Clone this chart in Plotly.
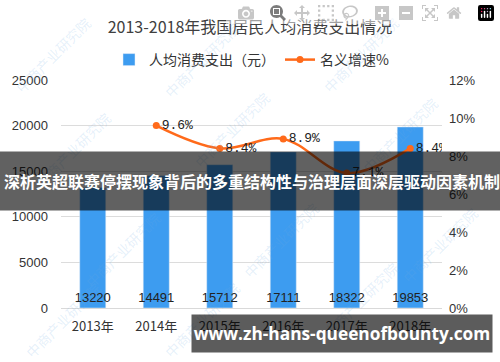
import plotly.graph_objects as go

years = ["2013年", "2014年", "2015年", "2016年", "2017年", "2018年"]
spending = [13220, 14491, 15712, 17111, 18322, 19853]
growth_years = ["2014年", "2015年", "2016年", "2017年", "2018年"]
growth = [9.6, 8.4, 8.9, 7.1, 8.4]

title_text = "2013-2018年我国居民人均消费支出情况"
banner_text = "深析英超联赛停摆现象背后的多重结构性与治理层面深层驱动因素机制"
url_text = "www.zh-hans-queenofbounty.com"
watermark = "中商产业研究院"

CJK = "Noto Sans CJK SC"
PL, PR, PT, PB = 58, 442, 80, 308
PW, PH = PR - PL, PB - PT


def px(x):
    return (x - PL) / PW


def py(y):
    return (PB - y) / PH


fig = go.Figure()
fig.add_trace(go.Bar(
    x=years, y=spending, name="人均消费支出（元）",
    marker=dict(color="#3D9CF0"), width=0.41,
    text=[str(v) for v in spending], textposition="inside",
    insidetextanchor="start", textangle=0, constraintext="none",
    textfont=dict(color="#222222", size=13, family="Liberation Sans"),
    yaxis="y",
))
fig.add_trace(go.Scatter(
    x=growth_years, y=growth, name="名义增速%",
    mode="lines+markers+text",
    line=dict(color="#FF6A1A", width=2.5, shape="spline"),
    marker=dict(color="#FF6A1A", size=7),
    text=[f"{v}%" for v in growth], textposition="middle right",
    textfont=dict(color="#222222", size=13, family="Liberation Mono"),
    yaxis="y2",
))

# faint watermarks (pixel positions)
wm_pos = [(50, 55), (200, 60), (360, 55),
          (70, 150), (230, 130), (400, 135),
          (120, 250), (280, 240), (440, 245),
          (60, 320), (200, 320), (360, 300)]
annotations = []
for (x, y) in wm_pos:
    annotations.append(dict(x=px(x), y=py(y), xref="paper", yref="paper", text=watermark,
                            showarrow=False, textangle=-45, xanchor="center", yanchor="middle",
                            font=dict(family=CJK, size=14, color="rgba(110,170,225,0.18)")))

# middle banner
annotations.append(dict(x=px(250), y=py(181), xref="paper", yref="paper",
                        xanchor="center", yanchor="middle",
                        text=f"<b>{banner_text}</b>", showarrow=False,
                        width=510, height=58, bgcolor="rgba(0,0,0,0.62)", borderpad=0,
                        font=dict(family=CJK, size=16, color="white")))
# bottom banner
annotations.append(dict(x=px(341), y=py(333.5), xref="paper", yref="paper",
                        xanchor="center", yanchor="middle",
                        text=f"<b>{url_text}</b>", showarrow=False,
                        width=300, height=37, bgcolor="rgba(0,0,0,0.64)", borderpad=0,
                        font=dict(family="Open Sans", size=17.3, color="white")))

fig.update_layout(
    width=500, height=362,
    margin=dict(l=PL, r=500 - PR, t=PT, b=362 - PB),
    paper_bgcolor="white", plot_bgcolor="white",
    title=dict(text=title_text, x=0.5, xanchor="center", y=1 - 27 / 362, yanchor="middle",
               font=dict(family=CJK, size=16, color="#404040")),
    legend=dict(orientation="h", x=0.5, xanchor="center", y=py(60), yanchor="middle",
                font=dict(family=CJK, size=14, color="#333333"), bgcolor="rgba(0,0,0,0)",
                itemwidth=30),
    xaxis=dict(showgrid=False, showline=True, linecolor="#d9d9d9", ticks="",
               ticklabelstandoff=6,
               tickfont=dict(family=CJK, size=13, color="#333333")),
    yaxis=dict(range=[0, 25000], dtick=5000, tickformat="d", showgrid=True, gridcolor="#dcdcdc",
               zeroline=False, showline=False, ticks="", ticklabelstandoff=12,
               tickfont=dict(family="Liberation Sans", size=13, color="#333333")),
    yaxis2=dict(range=[0, 12], dtick=2, ticksuffix="%", overlaying="y", side="right",
                showgrid=False, zeroline=False, showline=False, ticklabelstandoff=6,
                tickfont=dict(family="Liberation Sans", size=13, color="#333333")),
    annotations=annotations,
    showlegend=True,
)

fig.write_html("out.html", post_script="document.body.style.margin='0';")
